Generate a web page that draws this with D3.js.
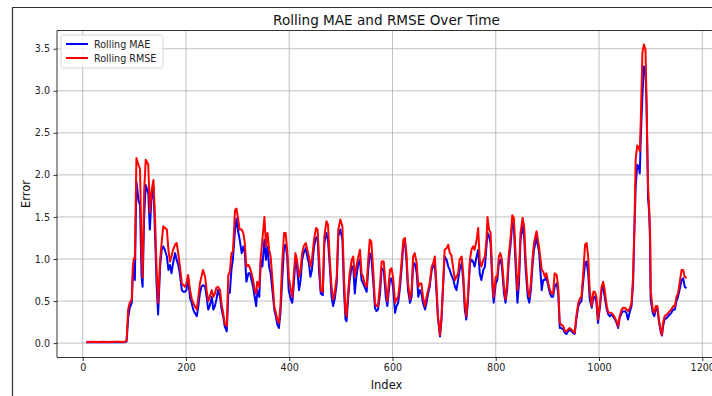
<!DOCTYPE html>
<html>
<head>
<meta charset="utf-8">
<script src="https://cdn.jsdelivr.net/npm/d3@7"></script>
<style>
  html, body { margin: 0; padding: 0; background: #fff; }
  svg { display: block; font-family: 'DejaVu Sans', sans-serif; }
</style>
</head>
<body>
<div id="chart"></div>
<script>
// sample index of each reading
const indexValues = [
  9, 20, 30, 40, 50, 60, 70, 80, 85, 88, 91, 95, 97, 99, 101, 104, 108, 111, 114, 116,
  119, 122, 125, 127, 130, 133, 137, 140, 143, 146, 150, 153, 156, 159, 163, 166, 169, 172, 175, 179,
  182, 185, 188, 192, 195, 198, 201, 204, 208, 211, 214, 217, 221, 224, 227, 230, 233, 237, 240, 243,
  246, 250, 253, 256, 259, 262, 266, 269, 272, 275, 279, 282, 285, 288, 291, 295, 298, 301, 304, 308,
  311, 314, 317, 321, 324, 327, 330, 333, 336, 338, 342, 345, 348, 352, 355, 358, 361, 364, 368, 371,
  374, 377, 380, 383, 386, 390, 393, 396, 399, 403, 406, 409, 412, 415, 419, 422, 425, 428, 432, 435,
  438, 441, 444, 448, 452, 455, 458, 461, 465, 468, 472, 475, 479, 482, 485, 488, 492, 495, 499, 503,
  506, 509, 511, 514, 517, 521, 524, 527, 530, 534, 537, 540, 543, 546, 550, 553, 556, 559, 563, 566,
  569, 572, 576, 579, 583, 587, 590, 595, 598, 601, 605, 608, 611, 614, 618, 621, 624, 627, 630, 634,
  637, 640, 643, 647, 650, 653, 656, 659, 663, 666, 669, 672, 676, 679, 682, 685, 688, 692, 695, 698,
  701, 705, 708, 711, 714, 718, 721, 724, 727, 730, 734, 737, 740, 743, 746, 750, 753, 756, 759, 763,
  766, 769, 772, 776, 779, 782, 784, 787, 790, 794, 796, 800, 803, 806, 809, 812, 816, 819, 822, 825,
  829, 832, 835, 838, 842, 845, 848, 852, 855, 858, 862, 865, 868, 871, 874, 879, 884, 889, 892, 895,
  898, 902, 905, 908, 911, 914, 918, 921, 924, 927, 931, 934, 937, 940, 943, 947, 950, 953, 956, 960,
  963, 966, 969, 973, 976, 979, 982, 986, 989, 992, 995, 998, 1002, 1005, 1008, 1011, 1015, 1018, 1021, 1024,
  1027, 1031, 1034, 1037, 1040, 1044, 1047, 1050, 1053, 1056, 1060, 1063, 1066, 1069, 1071, 1074, 1077, 1079, 1081, 1084,
  1087, 1090, 1092, 1095, 1097, 1099, 1100, 1104, 1107, 1110, 1113, 1116, 1120, 1122, 1124, 1127, 1131, 1134, 1137, 1140,
  1144, 1147, 1150, 1153, 1156, 1160, 1163, 1166, 1168
];

const maeValues = [
  0.010, 0.012, 0.010, 0.012, 0.010, 0.011, 0.012, 0.010, 0.020, 0.30, 0.42, 0.48, 0.80, 0.95, 0.75, 1.92, 1.70, 1.64, 0.79, 0.67,
  1.50, 1.88, 1.82, 1.78, 1.35, 1.70, 1.86, 1.31, 0.71, 0.34, 0.91, 1.11, 1.15, 1.11, 1.03, 0.87, 0.93, 0.83, 0.95, 1.07,
  0.99, 0.93, 0.83, 0.63, 0.61, 0.61, 0.63, 0.79, 0.53, 0.48, 0.40, 0.36, 0.32, 0.44, 0.59, 0.67, 0.69, 0.67, 0.55, 0.40,
  0.44, 0.55, 0.40, 0.44, 0.52, 0.63, 0.55, 0.40, 0.32, 0.20, 0.14, 0.59, 0.60, 0.87, 1.00, 1.35, 1.48, 1.33, 1.23, 1.07,
  1.15, 1.07, 0.73, 0.83, 0.83, 0.75, 0.67, 0.55, 0.44, 0.63, 0.55, 0.99, 0.91, 1.23, 0.99, 1.15, 0.91, 0.83, 0.59, 0.40,
  0.32, 0.22, 0.18, 0.36, 0.71, 1.15, 1.17, 1.03, 0.63, 0.52, 0.48, 0.71, 0.99, 0.91, 0.63, 0.75, 0.99, 1.07, 1.13, 1.03,
  0.95, 0.79, 0.87, 1.15, 1.25, 1.27, 0.83, 0.59, 0.57, 1.19, 1.31, 1.23, 0.87, 0.55, 0.44, 0.52, 0.71, 1.27, 1.35, 1.23,
  0.63, 0.28, 0.26, 0.52, 0.75, 0.91, 0.91, 0.59, 0.79, 0.95, 0.99, 0.75, 0.71, 0.67, 0.61, 0.87, 1.07, 1.03, 0.71, 0.42,
  0.38, 0.40, 0.60, 0.89, 0.87, 0.55, 0.44, 0.75, 0.77, 0.67, 0.36, 0.44, 0.48, 0.63, 0.91, 1.19, 1.21, 0.99, 0.63, 0.48,
  0.55, 0.95, 0.95, 0.83, 0.55, 0.63, 0.59, 0.48, 0.40, 0.48, 0.59, 0.67, 0.87, 0.91, 0.95, 0.63, 0.30, 0.08, 0.28, 0.67,
  1.03, 0.99, 0.91, 0.87, 0.81, 0.75, 0.67, 0.63, 0.75, 0.87, 0.95, 0.75, 0.40, 0.28, 0.48, 0.95, 0.99, 0.97, 0.91, 1.03,
  1.11, 0.83, 0.75, 0.87, 0.91, 1.15, 1.31, 1.27, 1.19, 0.63, 0.48, 0.71, 0.75, 0.95, 0.99, 0.91, 0.59, 0.48, 0.63, 0.95,
  1.19, 1.43, 1.39, 0.99, 0.48, 0.71, 1.23, 1.39, 1.27, 0.87, 0.55, 0.48, 0.63, 0.91, 1.11, 1.25, 1.08, 0.63, 0.75, 0.75,
  0.79, 0.67, 0.59, 0.55, 0.55, 0.67, 0.71, 0.59, 0.18, 0.18, 0.16, 0.12, 0.11, 0.14, 0.16, 0.14, 0.12, 0.11, 0.28, 0.44,
  0.48, 0.50, 0.71, 0.95, 0.97, 0.83, 0.52, 0.42, 0.55, 0.55, 0.48, 0.24, 0.44, 0.63, 0.67, 0.55, 0.40, 0.34, 0.32, 0.34,
  0.32, 0.28, 0.24, 0.18, 0.30, 0.36, 0.38, 0.38, 0.36, 0.28, 0.38, 0.44, 0.71, 1.45, 1.85, 2.12, 2.10, 2.02, 2.45, 2.93,
  3.29, 3.25, 2.85, 1.72, 1.57, 1.20, 0.52, 0.36, 0.32, 0.40, 0.42, 0.26, 0.12, 0.09, 0.20, 0.28, 0.30, 0.32, 0.34, 0.36,
  0.40, 0.40, 0.50, 0.55, 0.63, 0.75, 0.77, 0.67, 0.66
];

const rmseValues = [
  0.012, 0.015, 0.013, 0.016, 0.014, 0.015, 0.016, 0.013, 0.025, 0.40, 0.48, 0.52, 0.90, 1.01, 1.00, 2.20, 2.12, 2.07, 1.10, 0.78,
  1.80, 2.18, 2.15, 2.12, 1.55, 1.80, 1.94, 1.50, 0.90, 0.48, 1.00, 1.20, 1.39, 1.37, 1.35, 1.11, 0.97, 1.03, 1.11, 1.17,
  1.19, 1.07, 0.93, 0.71, 0.69, 0.67, 0.71, 0.81, 0.63, 0.53, 0.48, 0.44, 0.40, 0.55, 0.71, 0.79, 0.87, 0.79, 0.63, 0.50,
  0.55, 0.63, 0.55, 0.59, 0.66, 0.67, 0.63, 0.46, 0.36, 0.24, 0.20, 0.81, 0.85, 1.07, 1.09, 1.58, 1.60, 1.48, 1.35, 1.35,
  1.31, 1.19, 0.91, 0.93, 0.89, 0.83, 0.75, 0.63, 0.59, 0.73, 0.67, 1.03, 1.23, 1.50, 1.15, 1.31, 1.11, 1.03, 0.71, 0.44,
  0.36, 0.28, 0.24, 0.44, 0.91, 1.31, 1.31, 1.11, 0.79, 0.63, 0.55, 0.83, 1.07, 0.99, 0.79, 0.87, 1.07, 1.15, 1.19, 1.11,
  1.03, 0.91, 0.99, 1.23, 1.37, 1.35, 0.99, 0.63, 0.61, 1.27, 1.45, 1.41, 0.95, 0.67, 0.52, 0.59, 0.79, 1.35, 1.47, 1.39,
  0.79, 0.36, 0.32, 0.59, 0.83, 0.99, 1.03, 0.79, 0.91, 1.03, 1.11, 0.83, 0.79, 0.71, 0.67, 0.99, 1.23, 1.21, 0.83, 0.48,
  0.44, 0.44, 0.71, 0.97, 0.97, 0.67, 0.50, 0.87, 0.89, 0.79, 0.48, 0.52, 0.55, 0.71, 0.99, 1.23, 1.25, 1.07, 0.71, 0.52,
  0.63, 1.03, 1.07, 0.95, 0.67, 0.71, 0.71, 0.55, 0.44, 0.55, 0.63, 0.71, 0.91, 0.95, 1.03, 0.71, 0.32, 0.10, 0.32, 0.71,
  1.11, 1.13, 1.17, 1.07, 1.05, 0.87, 0.75, 0.79, 0.83, 0.99, 1.03, 0.83, 0.48, 0.32, 0.55, 0.99, 1.11, 1.15, 1.11, 1.23,
  1.37, 0.99, 0.91, 0.99, 1.03, 1.23, 1.50, 1.35, 1.31, 0.71, 0.55, 0.79, 0.79, 1.03, 1.07, 0.99, 0.67, 0.52, 0.71, 1.03,
  1.27, 1.52, 1.49, 1.11, 0.63, 0.83, 1.31, 1.49, 1.39, 0.99, 0.63, 0.55, 0.71, 0.99, 1.19, 1.33, 1.14, 0.87, 0.85, 0.79,
  0.83, 0.71, 0.63, 0.59, 0.59, 0.83, 0.81, 0.67, 0.24, 0.22, 0.20, 0.14, 0.14, 0.16, 0.18, 0.16, 0.14, 0.12, 0.32, 0.48,
  0.53, 0.55, 0.79, 1.17, 1.19, 1.03, 0.63, 0.44, 0.61, 0.61, 0.55, 0.28, 0.48, 0.67, 0.73, 0.63, 0.44, 0.36, 0.36, 0.36,
  0.34, 0.30, 0.26, 0.20, 0.32, 0.40, 0.42, 0.42, 0.40, 0.38, 0.42, 0.48, 0.79, 1.50, 2.18, 2.35, 2.33, 2.28, 2.66, 3.45,
  3.55, 3.49, 2.89, 1.87, 1.62, 1.30, 0.63, 0.40, 0.36, 0.44, 0.44, 0.28, 0.14, 0.10, 0.24, 0.32, 0.34, 0.36, 0.38, 0.40,
  0.44, 0.44, 0.55, 0.59, 0.71, 0.87, 0.87, 0.79, 0.78
];

const xTicks = [0, 200, 400, 600, 800, 1000, 1200];
const yTicks = [0, 0.5, 1, 1.5, 2, 2.5, 3, 3.5];
const seriesNames = ['Rolling MAE', 'Rolling RMSE'];
const seriesColors = ['#0000ff', '#ff0000'];

const WIDTH = 712;
const HEIGHT = 396;
const PLOT_LEFT = 57;
const PLOT_RIGHT = 716;
const PLOT_TOP = 30.5;
const PLOT_BOTTOM = 357.5;

const svg = d3.select('#chart')
  .append('svg')
  .attr('width', WIDTH)
  .attr('height', HEIGHT)
  .attr('viewBox', `0 0 ${WIDTH} ${HEIGHT}`);

svg.append('rect').attr('width', WIDTH).attr('height', HEIGHT).attr('fill', '#fff');

// figure edge (top-left corner of a larger frame)
svg.append('path')
  .attr('d', `M12.5,${HEIGHT} L12.5,7.5 L${WIDTH},7.5`)
  .attr('fill', 'none')
  .attr('stroke', '#333')
  .attr('stroke-width', 1.2);

const x = d3.scaleLinear().domain([-49.8, 1226.6]).range([PLOT_LEFT, PLOT_RIGHT]);
const y = d3.scaleLinear().domain([-0.171, 3.717]).range([PLOT_BOTTOM, PLOT_TOP]);

// grid
const grid = svg.append('g').attr('class', 'grid');
grid.selectAll('line.gx')
  .data(xTicks)
  .enter()
  .append('line')
  .attr('x1', d => x(d)).attr('x2', d => x(d))
  .attr('y1', PLOT_TOP).attr('y2', PLOT_BOTTOM)
  .attr('stroke', '#b0b0b0').attr('stroke-width', 0.8);
grid.selectAll('line.gy')
  .data(yTicks)
  .enter()
  .append('line')
  .attr('x1', PLOT_LEFT).attr('x2', PLOT_RIGHT)
  .attr('y1', d => y(d)).attr('y2', d => y(d))
  .attr('stroke', '#b0b0b0').attr('stroke-width', 0.8);

// lines
const rows = indexValues.map((idx, i) => ({ idx, mae: maeValues[i], rmse: rmseValues[i] }));
const clip = svg.append('clipPath').attr('id', 'plot-clip')
  .append('rect')
  .attr('x', PLOT_LEFT).attr('y', PLOT_TOP)
  .attr('width', PLOT_RIGHT - PLOT_LEFT).attr('height', PLOT_BOTTOM - PLOT_TOP);

const lineFor = key => d3.line().x(d => x(d.idx)).y(d => y(d[key]));
const lines = svg.append('g').attr('clip-path', 'url(#plot-clip)');
['mae', 'rmse'].forEach((key, i) => {
  lines.append('path')
    .datum(rows)
    .attr('d', lineFor(key))
    .attr('fill', 'none')
    .attr('stroke', seriesColors[i])
    .attr('stroke-width', 2)
    .attr('stroke-linejoin', 'round')
    .attr('stroke-linecap', 'square');
});

// axes
const xAxis = d3.axisBottom(x).tickValues(xTicks).tickSize(3.5).tickPadding(3.5).tickFormat(d3.format('d'));
const yAxis = d3.axisLeft(y).tickValues(yTicks).tickSize(3.5).tickPadding(3.5).tickFormat(d3.format('.1f'));

const gx = svg.append('g')
  .attr('transform', `translate(0,${PLOT_BOTTOM})`)
  .call(xAxis);
const gy = svg.append('g')
  .attr('transform', `translate(${PLOT_LEFT},0)`)
  .call(yAxis);

[gx, gy].forEach(g => {
  g.select('.domain').remove();
  g.selectAll('line').attr('stroke', '#000').attr('stroke-width', 0.8);
  g.selectAll('text').attr('fill', '#222').style('font-size', '9.6px').style('font-family', "'DejaVu Sans', sans-serif");
});

// spines: left, bottom, top (right is past the edge)
svg.append('path')
  .attr('d', `M${PLOT_RIGHT},${PLOT_TOP} L${PLOT_LEFT},${PLOT_TOP} L${PLOT_LEFT},${PLOT_BOTTOM} L${PLOT_RIGHT},${PLOT_BOTTOM}`)
  .attr('fill', 'none')
  .attr('stroke', '#000')
  .attr('stroke-width', 0.8);

// labels
svg.append('text')
  .attr('x', (PLOT_LEFT + PLOT_RIGHT) / 2)
  .attr('y', 25)
  .attr('text-anchor', 'middle')
  .style('font-size', '13.6px')
  .attr('fill', '#111')
  .text('Rolling MAE and RMSE Over Time');

svg.append('text')
  .attr('x', (PLOT_LEFT + PLOT_RIGHT) / 2)
  .attr('y', 389)
  .attr('text-anchor', 'middle')
  .style('font-size', '11.5px')
  .attr('fill', '#111')
  .text('Index');

svg.append('text')
  .attr('transform', `translate(30,${(PLOT_TOP + PLOT_BOTTOM) / 2}) rotate(-90)`)
  .attr('text-anchor', 'middle')
  .style('font-size', '11.5px')
  .attr('fill', '#111')
  .text('Error');

// legend
const legend = svg.append('g').attr('transform', 'translate(61,35)');
legend.append('rect')
  .attr('width', 102).attr('height', 33)
  .attr('rx', 2.5)
  .attr('fill', '#fff').attr('fill-opacity', 0.8)
  .attr('stroke', '#ccc').attr('stroke-width', 0.8);

seriesNames.forEach((name, i) => {
  const row = legend.append('g').attr('transform', `translate(0,${9 + i * 14})`);
  row.append('line')
    .attr('x1', 5).attr('x2', 27)
    .attr('stroke', seriesColors[i]).attr('stroke-width', 2);
  row.append('text')
    .attr('x', 33).attr('y', 3.5)
    .style('font-size', '9.6px')
    .attr('fill', '#222')
    .text(name);
});
</script>
</body>
</html>
